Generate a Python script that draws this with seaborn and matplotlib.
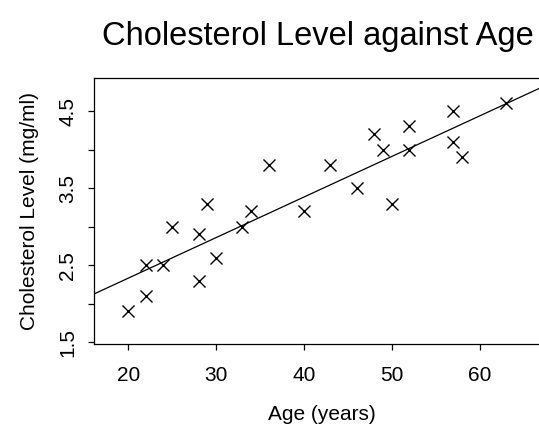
import numpy as np
import pandas as pd
import matplotlib
matplotlib.use("Agg")
import matplotlib.pyplot as plt
import seaborn as sns

age = [20, 22, 22, 24, 25, 28, 28, 29, 30, 33, 34, 36, 40, 43, 46, 48, 49, 50, 52, 52, 57, 57, 58, 63]
chol = [1.9, 2.1, 2.5, 2.5, 3.0, 2.9, 2.3, 3.3, 2.6, 3.0, 3.2, 3.8, 3.2, 3.8, 3.5, 4.2, 4.0, 3.3, 4.3, 4.0, 4.5, 4.1, 3.9, 4.6]
xticks = [20, 30, 40, 50, 60]
yticks = [1.5, 2.0, 2.5, 3.0, 3.5, 4.0, 4.5]
ytick_labels = ["1.5", "", "2.5", "", "3.5", "", "4.5"]

df = pd.DataFrame({"age": age, "chol": chol})

sns.set_style("white")
plt.rcParams["font.family"] = ["Liberation Sans", "DejaVu Sans"]
plt.rcParams["text.color"] = "black"
plt.rcParams["axes.labelcolor"] = "black"
plt.rcParams["xtick.color"] = "black"
plt.rcParams["ytick.color"] = "black"

fig = plt.figure(figsize=(5.39, 4.29), dpi=100)
ax = fig.add_axes([0.1744, 0.1981, 0.8460, 0.6194])
xlim = (16.1, 68.0)
ylim = (1.478, 4.925)
ax.set_xlim(xlim)
ax.set_ylim(ylim)

sns.scatterplot(data=df, x="age", y="chol", ax=ax, marker="x", color="black",
                s=75, linewidth=1.0)
sns.regplot(data=df, x="age", y="chol", ax=ax, scatter=False, ci=None,
            truncate=False, color="black", line_kws={"linewidth": 0.9})
ax.set_xlim(xlim)
ax.set_ylim(ylim)

ax.set_xticks(xticks)
ax.set_xticklabels([str(t) for t in xticks])
ax.set_yticks(yticks)
ax.set_yticklabels(ytick_labels, rotation=90, va="center")
ax.tick_params(axis="both", direction="out", length=4, width=0.9, colors="black",
               labelsize=15, left=True, bottom=True)
ax.tick_params(axis="x", pad=12)
ax.tick_params(axis="y", pad=8)

for s in ax.spines.values():
    s.set_color("black")
    s.set_linewidth(0.9)

ax.set_xlabel("Age (years)", fontsize=15, labelpad=14, color="black")
ax.set_ylabel("Cholesterol Level (mg/ml)", fontsize=15, labelpad=14, color="black")
fig.text(0.589, 0.916, "Cholesterol Level against Age", fontsize=23.5,
         ha="center", va="center", color="black")

fig.savefig("out.png", dpi=100)
